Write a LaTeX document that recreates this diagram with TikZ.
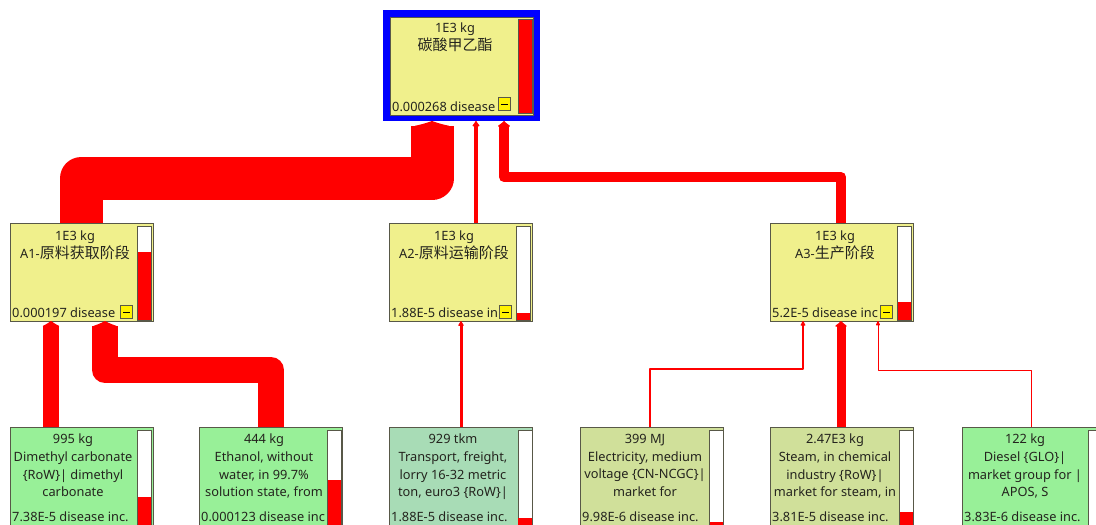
\documentclass[tikz,border=0pt]{standalone}
\usepackage{fontspec}
\setmainfont{Noto Sans}
\newfontfamily\cjk{Noto Sans CJK SC}
\usetikzlibrary{arrows.meta}
\definecolor{procyellow}{RGB}{240,240,140}
\definecolor{procgreen}{RGB}{152,240,152}
\definecolor{transgreen}{RGB}{168,220,182}
\definecolor{energygreen}{RGB}{208,224,154}
\definecolor{boxedge}{RGB}{88,88,72}
\definecolor{textgray}{RGB}{36,36,30}
\definecolor{flowred}{RGB}{255,0,0}
\definecolor{selblue}{RGB}{0,0,255}
\newcommand\zhtext[1]{{\cjk\fontsize{15}{17.5}\selectfont #1}}

\begin{document}
\begin{tikzpicture}[x=1pt,y=-1pt,
  box/.style={draw=boxedge, line width=0.9pt, anchor=north west, inner sep=0pt, outer sep=0pt, minimum width=143pt, minimum height=98pt},
  lowbox/.style={box, minimum height=104pt},
  title/.style={anchor=north, align=center, inner sep=0pt, font=\fontsize{12.8}{17.6}\selectfont, text=textgray},
  amount/.style={anchor=base west, inner sep=0pt, font=\fontsize{12.8}{15}\selectfont, text=textgray},
  bar/.style={draw=boxedge, fill=white, line width=0.8pt},
  level/.style={fill=flowred},
  minus/.style={draw=boxedge, fill=yellow, line width=1pt, minimum width=12pt, minimum height=13pt, inner sep=0pt, anchor=north west,
    path picture={\draw[black, line width=1pt] ([xshift=-3.5pt]path picture bounding box.center) -- ([xshift=3.5pt]path picture bounding box.center);}},
  flow/.style 2 args={draw=flowred, line width=#1, line join=round, -{Latex[length=6pt, width=#2, line width=1.5pt, round]}}
]
\clip (0,0) rectangle (1096,525);

% selected product
\node[draw=selblue, line width=7pt, outer sep=3.5pt, inner sep=0pt, minimum width=150pt, minimum height=104pt, anchor=north west] (sel) at (383,10) {};
\node[box, fill=procyellow] (top) at (390,17) {};
\node[title] (toptxt) at (455,23) {1E3 kg\\\zhtext{碳酸甲乙酯}};
\node[amount] (topval) at (392,111) {0.000268 disease};
\draw[bar, fill=flowred] (518,19) rectangle (532,113);
\node[minus] (topm) at (498,97) {};

% stages
\node[box, fill=procyellow] (a1) at (10,223) {};
\node[title] (a1txt) at (75,231) {1E3 kg\\A1-\zhtext{原料获取阶段}};
\node[amount] (a1val) at (12,317) {0.000197 disease};
\draw[bar] (137.5,226) rectangle (151,320);
\fill[level] (137.5,252) rectangle (151,320);
\node[minus] (a1m) at (120,305) {};

\node[box, fill=procyellow] (a2) at (389,223) {};
\node[title] (a2txt) at (454,231) {1E3 kg\\A2-\zhtext{原料运输阶段}};
\node[amount] (a2val) at (391,317) {1.88E-5 disease in};
\draw[bar] (516.5,226) rectangle (530,320);
\fill[level] (516.5,313) rectangle (530,320);
\node[minus] (a2m) at (499,305) {};

\node[box, fill=procyellow] (a3) at (770,223) {};
\node[title] (a3txt) at (835,231) {1E3 kg\\A3-\zhtext{生产阶段}};
\node[amount] (a3val) at (772,317) {5.2E-5 disease inc};
\draw[bar] (897.5,226) rectangle (911,320);
\fill[level] (897.5,302) rectangle (911,320);
\node[minus] (a3m) at (880,305) {};

% inputs
\node[lowbox, fill=procgreen] (dmc) at (10,427) {};
\node[title] (dmctxt) at (73,434) {995 kg\\Dimethyl carbonate\\\{RoW\}| dimethyl\\carbonate};
\node[amount] (dmcval) at (12,521.5) {7.38E-5 disease inc.};
\draw[bar] (137.5,430) rectangle (151,540);
\fill[level] (137.5,497) rectangle (151,540);

\node[lowbox, fill=procgreen] (eth) at (199,427) {};
\node[title] (ethtxt) at (264,434) {444 kg\\Ethanol, without\\water, in 99.7\%\\solution state, from};
\node[amount] (ethval) at (201,521.5) {0.000123 disease inc};
\draw[bar] (327.5,430) rectangle (341,540);
\fill[level] (327.5,480) rectangle (341,540);

\node[lowbox, fill=transgreen] (trn) at (389,427) {};
\node[title] (trntxt) at (453,434) {929 tkm\\Transport, freight,\\lorry 16-32 metric\\ton, euro3 \{RoW\}|};
\node[amount] (trnval) at (391,521.5) {1.88E-5 disease inc.};
\draw[bar] (518,430) rectangle (532,540);
\fill[level] (518,518) rectangle (532,540);

\node[lowbox, fill=energygreen] (ele) at (580,427) {};
\node[title] (eletxt) at (645,434) {399 MJ\\Electricity, medium\\voltage \{CN-NCGC\}|\\market for};
\node[amount] (eleval) at (582,521.5) {9.98E-6 disease inc.};
\draw[bar] (709.5,430) rectangle (723,540);
\fill[level] (709.5,522) rectangle (723,540);

\node[lowbox, fill=energygreen] (stm) at (770,427) {};
\node[title] (stmtxt) at (835,434) {2.47E3 kg\\Steam, in chemical\\industry \{RoW\}|\\market for steam, in};
\node[amount] (stmval) at (772,521.5) {3.81E-5 disease inc.};
\draw[bar] (899.5,430) rectangle (913,540);
\fill[level] (899.5,512) rectangle (913,540);

\node[lowbox, fill=procgreen] (dsl) at (962,427) {};
\node[title] (dsltxt) at (1025,434) {122 kg\\Diesel \{GLO\}|\\market group for |\\APOS, S};
\node[amount] (dslval) at (964,521.5) {3.83E-6 disease inc.};
\draw[bar] (1088.5,430) rectangle (1102,540);

% flows
\draw[flow={43pt}{49pt}] ([xshift=71pt]a1.north west) |- ([xshift=49pt,yshift=-57.5pt]sel.south west) -- ([xshift=49pt]sel.south west);
\draw[flow={4pt}{9pt}] ([xshift=87pt]a2.north west) -- ([xshift=93pt]sel.south west);
\draw[flow={10pt}{16pt}] ([xshift=71pt]a3.north west) |- ([xshift=121pt,yshift=-56pt]sel.south west) -- ([xshift=121pt]sel.south west);

\draw[flow={16pt}{22pt}] ([xshift=41pt]dmc.north west) -- ([xshift=41pt]a1.south west);
\draw[flow={26pt}{32pt}] ([xshift=72pt]eth.north west) |- ([xshift=95pt,yshift=-49pt]a1.south west) -- ([xshift=95pt]a1.south west);
\draw[flow={3pt}{7pt}] ([xshift=72pt]trn.north west) -- ([xshift=72pt]a2.south west);
\draw[flow={2.2pt}{6pt}] ([xshift=70pt]ele.north west) |- ([xshift=33pt,yshift=-48pt]a3.south west) -- ([xshift=33pt]a3.south west);
\draw[flow={9pt}{15pt}] ([xshift=71pt]stm.north west) -- ([xshift=71pt]a3.south west);
\draw[flow={1pt}{5pt}] ([xshift=69pt]dsl.north west) |- ([xshift=108pt,yshift=-49pt]a3.south west) -- ([xshift=108pt]a3.south west);
\end{tikzpicture}
\end{document}
